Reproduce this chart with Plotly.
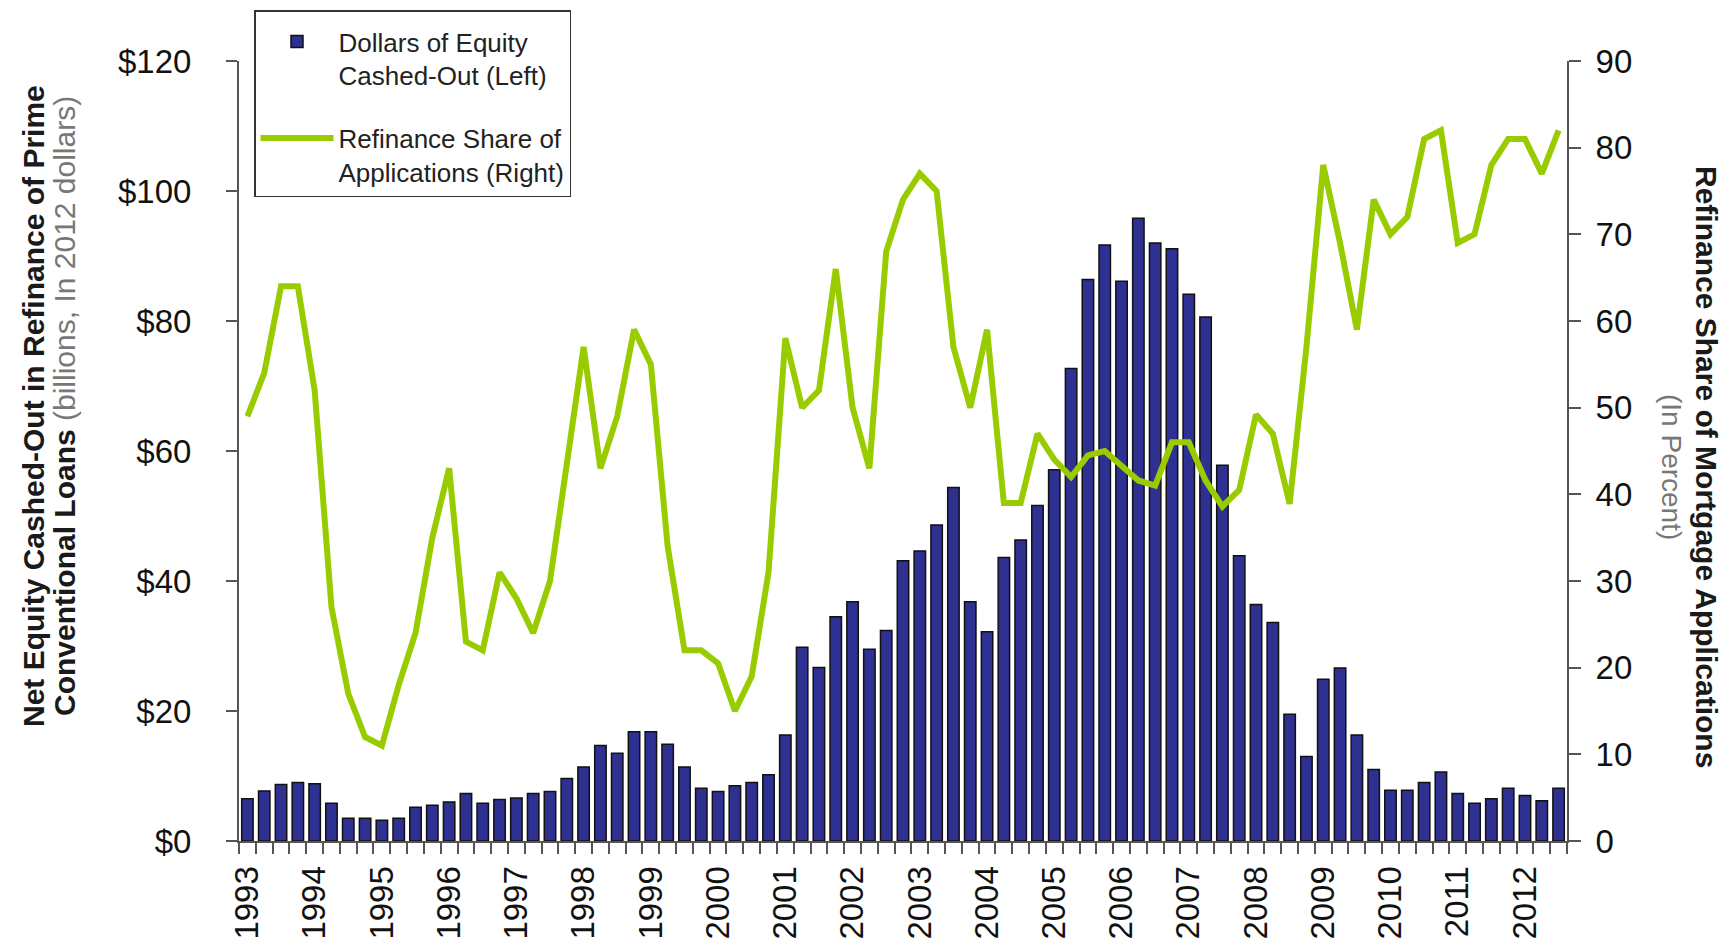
import plotly.graph_objects as go

# ---- data ----
years = list(range(1993, 2013))
quarters = [f"{y} Q{q}" for y in years for q in range(1, 5)][:79]   # 1993 Q1 .. 2012 Q3
tick_text = [q.split(" ")[0] if q.endswith("Q1") else "" for q in quarters]

cashout_billions = [
    6.5, 7.7, 8.7, 9.0, 8.8, 5.8, 3.5, 3.5, 3.2, 3.5, 5.2, 5.5, 6.0, 7.3, 5.8, 6.4,
    6.6, 7.3, 7.6, 9.6, 11.4, 14.7, 13.5, 16.8, 16.8, 14.9, 11.4, 8.1, 7.6, 8.5, 9.0, 10.2,
    16.3, 29.8, 26.7, 34.5, 36.8, 29.5, 32.4, 43.1, 44.6, 48.6, 54.4, 36.8, 32.2, 43.6, 46.3, 51.6,
    57.1, 72.7, 86.4, 91.7, 86.1, 95.8, 92.0, 91.1, 84.1, 80.6, 57.8, 43.9, 36.4, 33.6, 19.5, 13.0,
    24.9, 26.6, 16.3, 11.0, 7.8, 7.8, 9.0, 10.6, 7.3, 5.8, 6.5, 8.1, 7.0, 6.2, 8.1,
]
refi_share_pct = [
    49, 54, 64, 64, 52, 27, 17, 12, 11, 18, 24, 35, 43, 23, 22, 31,
    28, 24, 30, 43, 57, 43, 49, 59, 55, 34, 22, 22, 20.5, 15, 19, 31,
    58, 50, 52, 66, 50, 43, 68, 74, 77, 75, 57, 50, 59, 39, 39, 47,
    44, 42, 44.5, 45, 43.2, 41.6, 41, 46, 46, 41.6, 38.6, 40.5, 49.2, 47, 38.9, 57,
    78, 69, 59, 74, 70, 72, 81, 82, 69, 70, 78, 81, 81, 77, 82,
]
left_ticks = [0, 20, 40, 60, 80, 100, 120]
right_ticks = list(range(0, 91, 10))

BAR = "#2E3192"
GREEN = "#99CC00"
AXIS = "#555555"
FONT = "Liberation Sans, Arial, sans-serif"

W, H = 1735, 942
L, R, T, B = 239, 168, 61, 101
PW, PH = W - L - R, H - T - B


def px(xp):
    return (xp - L) / PW


def py(yp):
    return (H - B - yp) / PH


fig = go.Figure()
fig.add_trace(go.Bar(
    x=quarters, y=cashout_billions, name="Dollars of Equity<br>Cashed-Out (Left)",
    marker=dict(color=BAR, line=dict(color="#111111", width=1.5)),
    yaxis="y", legendgroup="a",
))
fig.add_trace(go.Scatter(
    x=quarters, y=refi_share_pct, name="Refinance Share of<br>Applications (Right)",
    mode="lines", line=dict(color=GREEN, width=6),
    yaxis="y2", legendgroup="b",
))

tickfont = dict(family=FONT, size=33, color="#111111")

fig.update_layout(
    width=W, height=H,
    margin=dict(l=L, r=R, t=T, b=B, autoexpand=False),
    paper_bgcolor="white", plot_bgcolor="white",
    bargap=0.32,
    showlegend=True,
    legend=dict(
        x=px(254), y=py(10), xanchor="left", yanchor="top",
        bordercolor="#333333", borderwidth=1.5, bgcolor="white",
        font=dict(family=FONT, size=26, color="#222222"),
        title=dict(text=" ", font=dict(family=FONT, size=5)),
        valign="top", itemwidth=73, tracegroupgap=26, traceorder="grouped",
        entrywidth=295, entrywidthmode="pixels",
    ),
    xaxis=dict(
        type="category", range=[-0.5, 78.5],
        tickmode="array", tickvals=quarters, ticktext=tick_text,
        tickson="boundaries", ticks="outside", ticklen=11, tickwidth=1.5, tickcolor=AXIS,
        tickangle=-90, tickfont=tickfont, ticklabelstandoff=10,
        showline=True, linecolor=AXIS, linewidth=2, showgrid=False, zeroline=False,
    ),
    yaxis=dict(
        range=[0, 120], tickmode="array", tickvals=left_ticks,
        ticktext=[f"${v}" for v in left_ticks],
        ticks="outside", ticklen=11, tickwidth=1.5, tickcolor=AXIS,
        tickfont=tickfont, ticklabelstandoff=28,
        showline=True, linecolor=AXIS, linewidth=2, showgrid=False, zeroline=False,
    ),
    yaxis2=dict(
        range=[0, 90], overlaying="y", side="right", tickmode="array", tickvals=right_ticks,
        ticks="outside", ticklen=12, tickwidth=1.5, tickcolor=AXIS,
        tickfont=tickfont, ticklabelstandoff=8,
        showline=True, linecolor=AXIS, linewidth=2, showgrid=False, zeroline=False,
    ),
    # inner halves of the crossing tick marks
    yaxis3=dict(
        range=[0, 120], overlaying="y", side="left", tickmode="array", tickvals=left_ticks,
        ticks="inside", ticklen=11, tickwidth=1.5, tickcolor=AXIS,
        showticklabels=False, showline=False, showgrid=False, zeroline=False,
    ),
    yaxis4=dict(
        range=[0, 90], overlaying="y", side="right", tickmode="array", tickvals=right_ticks,
        ticks="inside", ticklen=12, tickwidth=1.5, tickcolor=AXIS,
        showticklabels=False, showline=False, showgrid=False, zeroline=False,
    ),
)

fig.add_annotation(
    xref="paper", yref="paper", x=px(33), y=py(406), xanchor="center", yanchor="middle",
    textangle=-90, showarrow=False,
    text="<b>Net Equity Cashed-Out in Refinance of Prime</b>",
    font=dict(family=FONT, size=30, color="#1a1a1a"),
)
fig.add_annotation(
    xref="paper", yref="paper", x=px(64), y=py(406), xanchor="center", yanchor="middle",
    textangle=-90, showarrow=False,
    text="<b>Conventional Loans</b> <span style='color:#777777'>(billions, In 2012 dollars)</span>",
    font=dict(family=FONT, size=30, color="#1a1a1a"),
)
fig.add_annotation(
    xref="paper", yref="paper", x=px(1706), y=py(467), xanchor="center", yanchor="middle",
    textangle=90, showarrow=False,
    text="<b>Refinance Share of Mortgage Applications</b>",
    font=dict(family=FONT, size=30, color="#1a1a1a"),
)
fig.add_annotation(
    xref="paper", yref="paper", x=px(1671), y=py(467), xanchor="center", yanchor="middle",
    textangle=90, showarrow=False,
    text="(In Percent)",
    font=dict(family=FONT, size=28, color="#777777"),
)

# the page's default body margin would shift the 1735x942 figure; remove it
fig.write_html("out.html", config={"displayModeBar": False},
               post_script="document.body.style.margin='0';")
